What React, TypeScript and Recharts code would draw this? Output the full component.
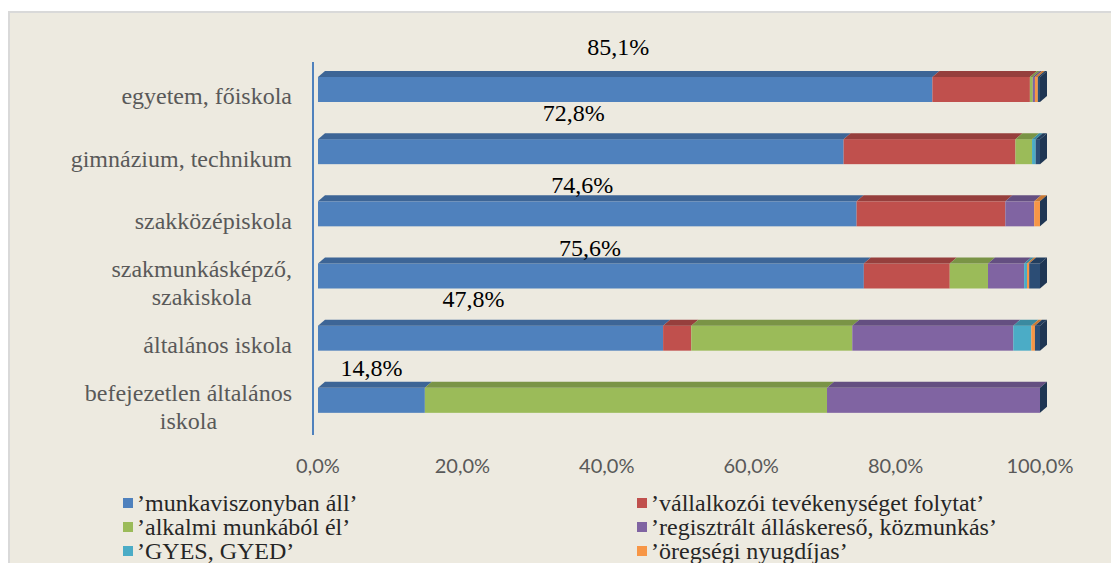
import React from 'react';
import { BarChart, Bar, XAxis, YAxis, Legend, LabelList } from 'recharts';

const categories = [
  'egyetem, főiskola',
  'gimnázium, technikum',
  'szakközépiskola',
  'szakmunkásképző, szakiskola',
  'általános iskola',
  'befejezetlen általános iskola',
];

const munkaviszony = [85.1, 72.8, 74.6, 75.6, 47.8, 14.8];
const vallalkozoi = [13.5, 23.8, 20.6, 11.9, 3.9, 0];
const alkalmi = [0.4, 2.3, 0, 5.3, 22.3, 55.7];
const regisztralt = [0.3, 0, 4.0, 5.0, 22.3, 29.5];
const gyes = [0, 0.5, 0, 0.4, 2.5, 0];
const oregsegi = [0.4, 0, 0.8, 0.3, 0.5, 0];
const egyeb = [0.3, 0.6, 0, 1.5, 0.7, 0];

const xTicks = [0, 20, 40, 60, 80, 100];

const series = [
  { key: 's0', name: '’munkaviszonyban áll’', color: '#4F81BD', top: '#3D6596', values: munkaviszony },
  { key: 's1', name: '’vállalkozói tevékenységet folytat’', color: '#C0504D', top: '#963F3D', values: vallalkozoi },
  { key: 's2', name: '’alkalmi munkából él’', color: '#9BBB59', top: '#7A9446', values: alkalmi },
  { key: 's3', name: '’regisztrált álláskereső, közmunkás’', color: '#8064A2', top: '#644F81', values: regisztralt },
  { key: 's4', name: '’GYES, GYED’', color: '#4BACC6', top: '#3A8AA0', values: gyes },
  { key: 's5', name: '’öregségi nyugdíjas’', color: '#F79646', top: '#C77935', values: oregsegi },
  { key: 's6', name: 'egyéb', color: '#2C4D75', top: '#223D5E', values: egyeb, hidden: true },
];

const data = categories.map((name, i) => {
  const row: any = { name };
  series.forEach((s) => (row[s.key] = s.values[i]));
  return row;
});

const DX = 7;
const DY = 6;
const LIFT = 4;
const SIDE = '#1F3653';
const SERIF = 'Liberation Serif, DejaVu Serif, Times, serif';

// label tweaks per row (the original has hand-placed labels)
const labelRise = [30, 27, 17, 16, 27, 20];
const labelShift = [-7, -7, -5, -1, -17, 0];

const fmt = (v: number) => v.toFixed(1).replace('.', ',') + '%';

let ctx: CanvasRenderingContext2D | null = null;
function measure(t: string) {
  if (!ctx) {
    ctx = document.createElement('canvas').getContext('2d');
  }
  if (!ctx) return t.length * 11;
  ctx.font = `24px ${SERIF}`;
  return ctx.measureText(t).width;
}

function wrap(text: string, max = 225) {
  const words = text.split(' ');
  const lines: string[] = [];
  let cur = '';
  words.forEach((w) => {
    const next = cur ? cur + ' ' + w : w;
    if (cur && measure(next) > max) {
      lines.push(cur);
      cur = w;
    } else cur = next;
  });
  if (cur) lines.push(cur);
  return lines;
}

function lastKey(row: any) {
  let k = '';
  series.forEach((s) => {
    if (row[s.key] > 0) k = s.key;
  });
  return k;
}

function Bar3D(props: any) {
  const { x, y, width, height, fill, top, isLast } = props;
  if (!(width > 0)) return null;
  const fy = y - LIFT;
  return (
    <g>
      <rect x={x} y={fy} width={width} height={height} fill={fill} />
      <polygon
        points={`${x},${fy} ${x + width},${fy} ${x + width + DX},${fy - DY} ${x + DX},${fy - DY}`}
        fill={top}
      />
      {isLast && (
        <polygon
          points={`${x + width},${fy} ${x + width + DX},${fy - DY} ${x + width + DX},${fy - DY + height} ${x + width},${fy + height}`}
          fill={SIDE}
        />
      )}
    </g>
  );
}

function CatTick(props: any) {
  const { x, y, payload } = props;
  const lines = wrap(payload.value);
  const maxW = Math.max(...lines.map(measure));
  const cx = x - maxW / 2;
  const lh = 28;
  const y0 = y + 3 - ((lines.length - 1) * lh) / 2;
  return (
    <text textAnchor="middle" style={{ fontFamily: SERIF }} fontSize={24} fill="#595959">
      {lines.map((l, i) => (
        <tspan key={i} x={cx} y={y0 + i * lh} dy="0.35em">
          {l}
        </tspan>
      ))}
    </text>
  );
}

function TopLabel(props: any) {
  const { x, y, width, value, index } = props;
  const cx = x + width / 2 + (labelShift[index] || 0);
  const cy = y - LIFT - (labelRise[index] || 24);
  return (
    <text x={cx} y={cy} dy="0.35em" textAnchor="middle" style={{ fontFamily: SERIF }} fontSize={24} fill="#000">
      {fmt(value)}
    </text>
  );
}

function LegendBox(props: any) {
  const items = (props.payload || []).filter((p: any) => p.type !== 'none');
  return (
    <div
      style={{
        width: 1109,
        height: 84,
        paddingTop: 4,
        paddingLeft: 113,
        boxSizing: 'border-box',
        display: 'grid',
        gridTemplateColumns: '514px 480px',
        gridAutoRows: '24px',
        fontFamily: SERIF,
        fontSize: 24,
        lineHeight: '24px',
        color: '#262626',
      }}
    >
      {items.map((p: any) => (
        <div key={p.value} style={{ display: 'flex', alignItems: 'center', whiteSpace: 'nowrap' }}>
          <span style={{ width: 10, height: 10, background: p.color, marginRight: 4, flex: 'none' }} />
          <span>{p.value}</span>
        </div>
      ))}
    </div>
  );
}

export default function App() {
  return (
    <div
      style={{
        position: 'relative',
        top: 3,
        width: 1111,
        height: 566,
        marginBottom: -11,
        boxSizing: 'border-box',
        borderLeft: '2px solid #D9D9D9',
        borderTop: '2px solid #D9D9D9',
        background: '#EDEAE0',
      }}
    >
      <BarChart
        layout="vertical"
        width={1109}
        height={564}
        data={data}
        barSize={25}
        margin={{ top: 49, right: 79, bottom: 6, left: 0 }}
      >
        <XAxis
          type="number"
          domain={[0, 100]}
          ticks={xTicks}
          interval={0}
          tickFormatter={fmt}
          axisLine={false}
          tickLine={false}
          height={52}
          tickMargin={18}
          tick={{ fill: '#595959', fontSize: 20, fontFamily: 'Lato' }}
        />
        <YAxis
          type="category"
          dataKey="name"
          width={308}
          tickSize={0}
          tickMargin={26}
          tickLine={false}
          axisLine={{ stroke: '#4F81BD', strokeWidth: 2, transform: 'translate(-5,0)' }}
          tick={<CatTick />}
          interval={0}
        />
        <Legend
          verticalAlign="bottom"
          itemSorter="dataKey"
          content={<LegendBox />}
          wrapperStyle={{ left: 0, width: 1109 }}
        />
        {series.map((s) => (
          <Bar
            key={s.key}
            dataKey={s.key}
            name={s.name}
            stackId="a"
            fill={s.color}
            legendType={s.hidden ? 'none' : 'square'}
            isAnimationActive={false}
            shape={(p: any) => (
              <Bar3D {...p} fill={s.color} top={s.top} isLast={p.payload && lastKey(p.payload) === s.key} />
            )}
          >
            {s.key === 's0' && <LabelList dataKey="s0" content={<TopLabel />} />}
          </Bar>
        ))}
      </BarChart>
    </div>
  );
}
